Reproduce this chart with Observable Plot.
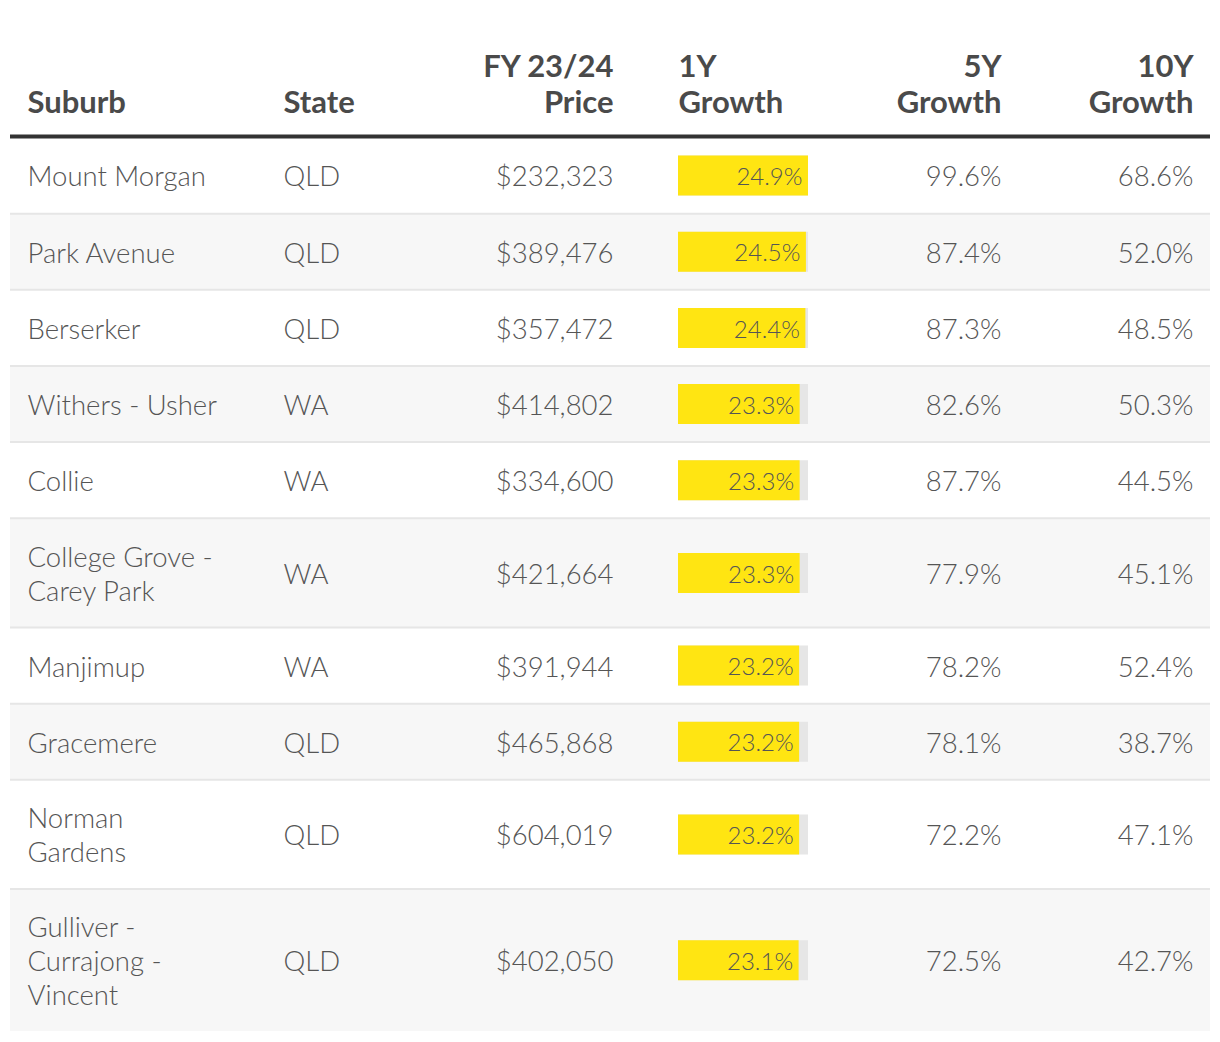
<!DOCTYPE html>
<html>
<head>
<meta charset="utf-8">
<script src="https://cdn.jsdelivr.net/npm/d3@7"></script>
<script src="https://cdn.jsdelivr.net/npm/@observablehq/plot@0.6"></script>
<style>
  html, body { margin: 0; padding: 0; background: #ffffff; }
  #chart svg { display: block; }
</style>
</head>
<body>
<div id="chart"></div>
<script>
// ---- data ----
const suburbs = ["Mount Morgan", "Park Avenue", "Berserker", "Withers - Usher", "Collie",
  "College Grove -\nCarey Park", "Manjimup", "Gracemere", "Norman\nGardens", "Gulliver -\nCurrajong -\nVincent"];
const states = ["QLD", "QLD", "QLD", "WA", "WA", "WA", "WA", "QLD", "QLD", "QLD"];
const prices = [232323, 389476, 357472, 414802, 334600, 421664, 391944, 465868, 604019, 402050];
const growth1Y = [24.9, 24.5, 24.4, 23.3, 23.3, 23.3, 23.2, 23.2, 23.2, 23.1];
const growth5Y = [99.6, 87.4, 87.3, 82.6, 87.7, 77.9, 78.2, 78.1, 72.2, 72.5];
const growth10Y = [68.6, 52.0, 48.5, 50.3, 44.5, 45.1, 52.4, 38.7, 47.1, 42.7];
const headers = ["Suburb", "State", "FY 23/24\nPrice", "1Y\nGrowth", "5Y\nGrowth", "10Y\nGrowth"];

// ---- layout (styling) ----
const PAD = 1.3; // row padding in line units
const textColor = "#555555";
const headColor = "#4a4a4a";
const yellow = "#ffe512";
const track = "#e6e6e6";
const fontSize = 27.5;
const headSize = 31;
const barSize = 24;
const lightFont = "'Lato Light', Lato, 'Open Sans', sans-serif";
const font = "Lato, 'Open Sans', sans-serif";

let acc = 0;
const rows = suburbs.map((s, i) => {
  const lines = s.split("\n").length;
  const size = lines + PAD;
  const r = {
    i, suburb: s, state: states[i], price: prices[i],
    g1: growth1Y[i], g5: growth5Y[i], g10: growth10Y[i],
    y1: acc, y2: acc + size, mid: acc + size / 2
  };
  acc += size;
  return r;
});
const total = acc;
const maxG1 = d3.max(growth1Y);

const fmtPrice = d3.format("$,");
const fmtPct = v => d3.format(".1f")(v) + "%";

const columns = [
  {h: 0, text: d => d.suburb, anchor: "start", dx: 27},
  {h: 1, text: d => d.state, anchor: "start", dx: 283},
  {h: 2, text: d => fmtPrice(d.price), anchor: "end", dx: 613},
  {h: 4, text: d => fmtPct(d.g5), anchor: "end", dx: 1001},
  {h: 5, text: d => fmtPct(d.g10), anchor: "end", dx: 1193}
];

const marks = [
  Plot.rect(rows, {y1: "y1", y2: "y2", fill: d => d.i % 2 ? "#f7f7f7" : "#ffffff", insetLeft: 10, insetRight: 10}),
  Plot.ruleY(rows.slice(1), {y: "y1", stroke: "#e6e6e6", strokeWidth: 2, insetLeft: 10, insetRight: 10}),
  Plot.ruleY([0], {stroke: "#333333", strokeWidth: 4, dy: -1, insetLeft: 10, insetRight: 10}),
  Plot.ruleY(rows, {y: "mid", x1: 0, x2: () => maxG1, stroke: track, strokeWidth: 40}),
  Plot.ruleY(rows, {y: "mid", x1: 0, x2: "g1", stroke: yellow, strokeWidth: 40}),
  Plot.text(rows, {y: "mid", x: "g1", text: d => fmtPct(d.g1), textAnchor: "end", dx: -6, dy: 2,
    fill: textColor, fontSize: barSize, fontWeight: 300, fontFamily: lightFont})
];

for (const c of columns) {
  marks.push(Plot.text(rows, {y: "mid", frameAnchor: "left", dx: c.dx, dy: 0, text: c.text,
    textAnchor: c.anchor, lineHeight: 34 / fontSize, fill: textColor, fontSize, fontWeight: 300, fontFamily: lightFont}));
  marks.push(Plot.text([headers[c.h]], {frameAnchor: "top-left", dx: c.dx, dy: 112, text: d => d,
    textAnchor: c.anchor, lineAnchor: "bottom", lineHeight: 36 / headSize, fill: headColor,
    fontSize: headSize, fontWeight: 700, fontFamily: font}));
}
marks.push(Plot.text([headers[3]], {x: 0, frameAnchor: "top", dy: 112, text: d => d,
  textAnchor: "start", lineAnchor: "bottom", lineHeight: 36 / headSize, fill: headColor,
  fontSize: headSize, fontWeight: 700, fontFamily: font}));

const chart = Plot.plot({
  width: 1220,
  height: 1042,
  margin: 0,
  x: {domain: [0, maxG1], range: [678, 808], axis: null},
  y: {domain: [0, total], range: [137, 1031], axis: null},
  style: {fontFamily: font, background: "#ffffff"},
  marks
});
document.getElementById("chart").appendChild(chart);
</script>
</body>
</html>
